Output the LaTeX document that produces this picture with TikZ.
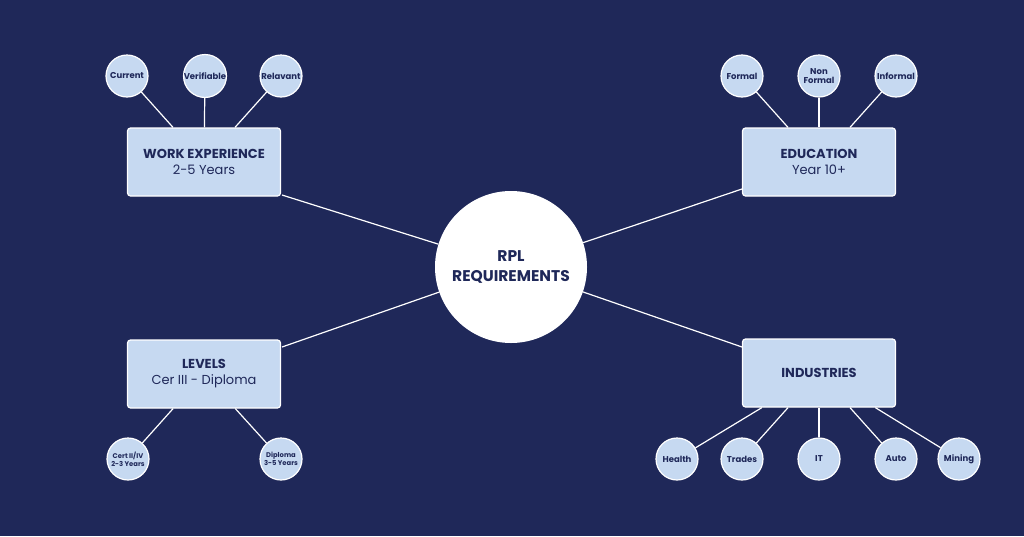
\documentclass[tikz,border=0pt]{standalone}
\usepackage{fontspec}
\setmainfont{Poppins}
\definecolor{bg}{HTML}{1F2859}
\definecolor{boxc}{HTML}{C6D9F1}
\definecolor{txt}{HTML}{1F2859}
\begin{document}
\begin{tikzpicture}[x=1pt,y=-1pt,
  box/.style={draw=white,line width=1.2pt,fill=boxc,rounded corners=3pt,minimum width=153pt,minimum height=68pt,align=center,text=txt,font=\fontsize{13}{16}\selectfont},
  sm/.style={circle,draw=white,line width=1.2pt,fill=boxc,minimum size=42pt,inner sep=0pt,align=center,text=txt,font=\bfseries\fontsize{8.5}{9.5}\selectfont},
  ln/.style={white,line width=1.2pt}]
\fill[bg] (0,0) rectangle (1024,536);
\useasboundingbox (0,0) rectangle (1024,536);
\node[circle,fill=white,minimum size=152pt,align=center,text=txt,font=\bfseries\fontsize{15.5}{20}\selectfont] (c) at (511,267) {RPL\\REQUIREMENTS};
\node[box] (we) at (204,162) {\textbf{WORK EXPERIENCE}\\2-5 Years};
\node[box] (ed) at (819,162) {\textbf{EDUCATION}\\Year 10+};
\node[box] (lv) at (204,374) {\textbf{LEVELS}\\Cer III - Diploma};
\node[box] (in) at (819,373) {\textbf{INDUSTRIES}};
\node[sm] (s1) at (127,76) {Current};
\node[sm] (s2) at (205,76) {Verifiable};
\node[sm] (s3) at (281,76) {Relavant};
\node[sm] (s4) at (742,76) {Formal};
\node[sm] (s5) at (819,76) {Non\\Formal};
\node[sm] (s6) at (896,76) {Informal};
\node[sm,font=\bfseries\fontsize{6.8}{7.8}\selectfont] (s7) at (128,459) {Cert II/IV\\2-3 Years};
\node[sm,font=\bfseries\fontsize{6.8}{7.8}\selectfont] (s8) at (281,459) {Diploma\\3-5 Years};
\node[sm] (s9) at (677,459) {Health};
\node[sm] (s10) at (742,459) {Trades};
\node[sm] (s11) at (819,459) {IT};
\node[sm] (s12) at (896,459) {Auto};
\node[sm] (s13) at (959,459) {Mining};
\coordinate (we1) at (282,195); \coordinate (ed1) at (742,189);
\coordinate (lv1) at (282,347); \coordinate (in1) at (742,347);
\draw[ln] (we1) -- (c); \draw[ln] (ed1) -- (c);
\draw[ln] (lv1) -- (c); \draw[ln] (in1) -- (c);
\draw[ln] (s1) -- (we); \draw[ln] (s2) -- (we); \draw[ln] (s3) -- (we);
\draw[ln] (s4) -- (ed); \draw[ln] (s5) -- (ed); \draw[ln] (s6) -- (ed);
\draw[ln] (s7) -- (lv); \draw[ln] (s8) -- (lv);
\draw[ln] (s9) -- (in); \draw[ln] (s10) -- (in); \draw[ln] (s11) -- (in); \draw[ln] (s12) -- (in); \draw[ln] (s13) -- (in);
\end{tikzpicture}
\end{document}
